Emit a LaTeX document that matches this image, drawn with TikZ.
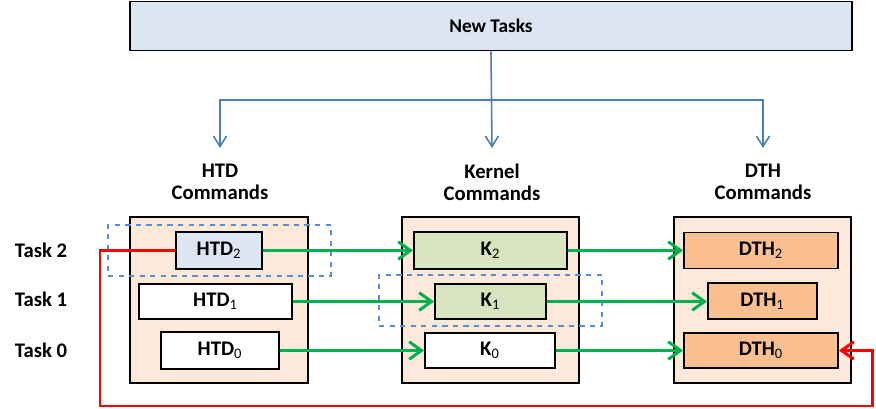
\documentclass[tikz,border=0pt]{standalone}
\usepackage{fontspec}
\setmainfont{Carlito}
\usepackage{tikz}
\usetikzlibrary{arrows.meta,positioning}
\definecolor{peach}   {HTML}{FDE9D9}
\definecolor{skyfill} {HTML}{DCE6F2}
\definecolor{olive}   {HTML}{D7E4BD}
\definecolor{apricot} {HTML}{FAC090}
\definecolor{vgreen}  {HTML}{00B050}
\definecolor{vblue}   {HTML}{4A7EBB}
\definecolor{dashblue}{HTML}{558ED5}
\definecolor{vred}    {HTML}{FF0000}
\newcommand{\lowidx}[1]{\textsubscript{\mdseries #1}}

\begin{document}
\begin{tikzpicture}[x=0.02cm,y=-0.02cm,
    every node/.style={font=\bfseries\fontsize{11.8}{12.5}\selectfont},
    col/.style={draw,line width=1.1pt,fill=peach,minimum width=3.55cm,minimum height=3.32cm},
    cmd/.style={draw,line width=1.1pt,inner sep=0pt},
    group/.style={draw=dashblue,dashed,line width=0.9pt,minimum width=4.46cm,minimum height=1.02cm},
    flow/.style={vgreen,line width=1.7pt,-{Straight Barb[length=7pt,width=10pt]}},
    feed/.style={vblue,line width=0.9pt,-{Straight Barb[length=6pt,width=7.5pt]}},
    back/.style={vred,line width=1.7pt,-{Straight Barb[length=7pt,width=10pt]}}]
  \useasboundingbox (0,0) rectangle (876,409);
  % new tasks
  \node[draw,line width=1.1pt,fill=skyfill,minimum width=14.44cm,minimum height=0.98cm,
        font=\bfseries\fontsize{11}{12}\selectfont] (newtasks) at (491,26) {New Tasks};
  \coordinate (fork) at (492,100);
  \coordinate (htdin) at (220,148);
  \coordinate (kin) at (492,148);
  \coordinate (dthin) at (763,148);
  \draw[feed] (newtasks.south) -- (kin);
  \draw[feed] (fork) -| (htdin);
  \draw[feed] (fork) -| (dthin);
  \node[align=center] (htdlbl) at (220,182) {HTD\\Commands};
  \node[align=center] (klbl) at (492,182) {Kernel\\Commands};
  \node[align=center] (dthlbl) at (763,182) {DTH\\Commands};
  % columns
  \node[col] (htdcol) at (219,300) {};
  \node[col] (kcol) at (490.5,300) {};
  \node[col] (dthcol) at (762.5,300) {};
  % task rows
  \node (task2) at (41,250) {Task 2};
  \node (task1) at (41,299) {Task 1};
  \node (task0) at (41,350) {Task 0};
  % HTD commands
  \node[cmd,fill=skyfill,minimum width=1.72cm,minimum height=0.74cm] (htd2) at (219,250.5) {HTD\lowidx{2}};
  \node[cmd,fill=white,minimum width=3.06cm,minimum height=0.70cm] (htd1) at (215.5,301.5) {HTD\lowidx{1}};
  \node[cmd,fill=white,minimum width=2.36cm,minimum height=0.74cm] (htd0) at (220,350.5) {HTD\lowidx{0}};
  % kernel commands
  \node[cmd,fill=olive,minimum width=3.06cm,minimum height=0.74cm] (k2) at (490.5,250.5) {K\lowidx{2}};
  \node[cmd,fill=olive,minimum width=2.22cm,minimum height=0.70cm] (k1) at (490.5,301.5) {K\lowidx{1}};
  \node[cmd,fill=white,minimum width=2.60cm,minimum height=0.70cm] (k0) at (490,350.5) {K\lowidx{0}};
  % DTH commands
  \node[cmd,fill=apricot,minimum width=3.08cm,minimum height=0.72cm] (dth2) at (761,250.5) {DTH\lowidx{2}};
  \node[cmd,fill=apricot,minimum width=2.18cm,minimum height=0.72cm] (dth1) at (762.5,301) {DTH\lowidx{1}};
  \node[cmd,fill=apricot,minimum width=3.08cm,minimum height=0.70cm] (dth0) at (761,350.5) {DTH\lowidx{0}};
  % dashed groups
  \node[group] (grphtd) at (219.5,250.5) {};
  \node[group] (grpk) at (490.5,300.5) {};
  % data flow
  \draw[flow] (htd2.east) -- (k2.west);
  \draw[flow] (k2.east) -- (dth2.west);
  \draw[flow] (htd1.east) -- (k1.west);
  \draw[flow] (k1.east) -- (k1.east -| dth1.west);
  \draw[flow] (htd0.east) -- (k0.west);
  \draw[flow] (k0.east) -- (dth0.west);
  % feedback
  \coordinate (lowl) at (100,406);
  \coordinate (lowr) at (872,406);
  \draw[back] (htd2.west) -| (lowl) -- (lowr) |- (dth0.east);
\end{tikzpicture}
\end{document}
